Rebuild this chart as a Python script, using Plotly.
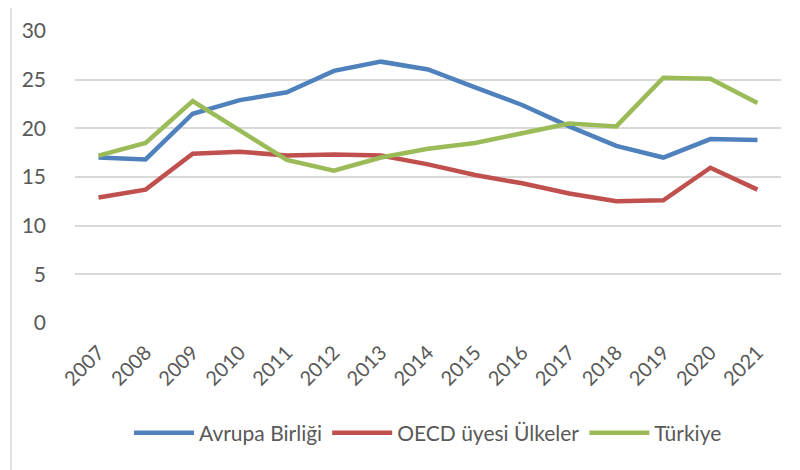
import plotly.graph_objects as go

years = [str(y) for y in range(2007, 2022)]
avrupa = [17.0, 16.8, 21.5, 22.9, 23.7, 25.9, 26.85, 26.05, 24.2, 22.4, 20.2, 18.2, 17.0, 18.9, 18.8]
oecd = [12.9, 13.7, 17.4, 17.6, 17.2, 17.3, 17.2, 16.3, 15.2, 14.35, 13.3, 12.5, 12.6, 15.95, 13.7]
turkiye = [17.2, 18.5, 22.8, 19.8, 16.75, 15.65, 17.0, 17.9, 18.5, 19.5, 20.5, 20.2, 25.2, 25.1, 22.6]

names = ["Avrupa Birliği", "OECD üyesi Ülkeler", "Türkiye"]
colors = ["#4F81BD", "#C0504D", "#9BBB59"]

fig = go.Figure()
for name, vals, col in zip(names, [avrupa, oecd, turkiye], colors):
    fig.add_trace(go.Scatter(x=years, y=vals, name=name, mode="lines",
                             line=dict(color=col, width=4.5)))

font = "Lato, Open Sans, sans-serif"
fig.update_layout(
    width=800, height=470,
    margin=dict(l=67, r=27, t=23, b=155, autoexpand=False),
    paper_bgcolor="white", plot_bgcolor="white",
    font=dict(family=font, color="#595959", size=20),
    showlegend=True,
    legend=dict(orientation="h", x=0.5, xanchor="center", y=-0.377, yanchor="middle",
                font=dict(size=21, color="#595959"), itemwidth=60,
                bgcolor="rgba(0,0,0,0)"),
    xaxis=dict(type="category", range=[-0.5, 14.5], tickangle=-45, showgrid=False,
               zeroline=False, showline=False, ticks="", tickfont=dict(size=20),
               automargin=False, ticklabelstandoff=13),
    yaxis=dict(range=[0, 30], dtick=5, showgrid=True, gridcolor="#D9D9D9", gridwidth=1.5,
               zeroline=False, showline=False, ticks="", tickfont=dict(size=21),
               automargin=False, ticklabelstandoff=28),
    shapes=[dict(type="rect", xref="paper", yref="paper",
                 x0=(11 - 75) / 706, x1=(815 - 75) / 706,
                 y0=(323 - 490) / 292, y1=(323 - 2.5) / 292,
                 line=dict(color="#D9D9D9", width=1.5), layer="below")],
)

fig.write_html("out.html")
